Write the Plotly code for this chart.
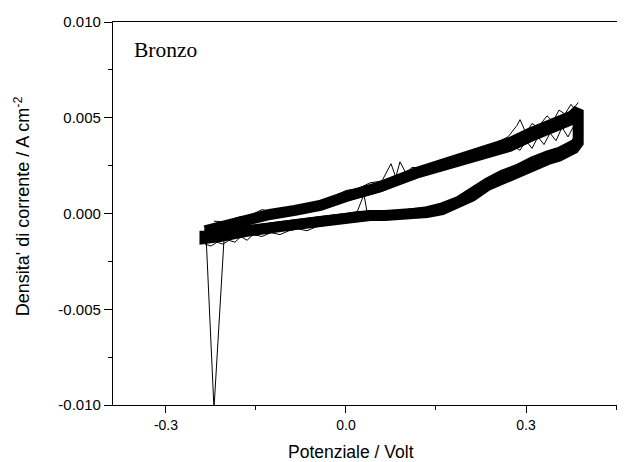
import plotly.graph_objects as go

# --- dati (voltammetria ciclica, bronzo) ---
# ramo anodico (andata): banda centrale e ciclo interno
pot_andata = [-0.235, -0.21, -0.168, -0.127, -0.085, -0.043, 0.0, 0.057, 0.118,
              0.173, 0.228, 0.273, 0.307, 0.348, 0.377, 0.387]
corr_andata = [-0.0009, -0.0007, -0.00026, -0.00005, 0.00016, 0.00042, 0.00089, 0.0014,
               0.00215, 0.00267, 0.0032, 0.0037, 0.0042, 0.0047, 0.0051, 0.0054]
corr_andata_int = [-0.001, -0.0008, -0.00035, -0.00012, 0.0001, 0.00035, 0.0008, 0.0013,
                   0.002, 0.0025, 0.003, 0.0034, 0.0039, 0.0044, 0.0048, 0.0051]

# ramo catodico (ritorno)
pot_ritorno = [0.387, 0.38, 0.37, 0.355, 0.335, 0.31, 0.285, 0.26, 0.235, 0.21, 0.185,
               0.16, 0.135, 0.11, 0.09, 0.065, 0.04, 0.02, 0.0, -0.043, -0.085, -0.127,
               -0.168, -0.21, -0.235]
corr_ritorno = [0.0037, 0.0034, 0.0032, 0.0030, 0.0028, 0.0025, 0.0021, 0.0018, 0.00145,
                0.0009, 0.0005, 0.0002, 0.00005, -0.00005, -0.0001, -0.0001, -0.0001,
                -0.00015, -0.00025, -0.00042, -0.00058, -0.00073, -0.00094, -0.0012, -0.0013]
corr_ritorno_int = [0.0040, 0.0037, 0.0035, 0.0033, 0.0031, 0.0028, 0.0024, 0.0021, 0.0017,
                    0.0012, 0.0007, 0.0004, 0.0002, 0.0001, 0.0, 0.0, 0.0, -0.00005,
                    -0.00015, -0.0003, -0.00046, -0.0006, -0.0008, -0.00105, -0.0012]

# rumore sul bordo superiore del ramo anodico
pot_rumore_sup = [-0.22, -0.2, -0.18, -0.16, -0.14, -0.12, -0.1, -0.08, -0.06, -0.04,
                  -0.02, 0.0, 0.02, 0.04, 0.06, 0.075, 0.083, 0.09, 0.1, 0.11, 0.13,
                  0.15, 0.17, 0.19, 0.21, 0.23, 0.25, 0.27, 0.285, 0.29, 0.3, 0.31,
                  0.32, 0.335, 0.345, 0.355, 0.365, 0.375, 0.38, 0.387]
corr_rumore_sup = [-0.0004, -0.00045, -0.0002, -0.0001, 0.0002, 0.0001, 0.0003, 0.0004,
                   0.0005, 0.0007, 0.0009, 0.0012, 0.0013, 0.0016, 0.0017, 0.0026,
                   0.0019, 0.0027, 0.0021, 0.0024, 0.0024, 0.0027, 0.0029, 0.003,
                   0.0033, 0.0035, 0.0037, 0.004, 0.0046, 0.0049, 0.0042, 0.0047,
                   0.0045, 0.0051, 0.0048, 0.0054, 0.0052, 0.0057, 0.0055, 0.0058]

# rumore sul bordo interno del ramo anodico
pot_rumore_int = [0.26, 0.28, 0.29, 0.30, 0.31, 0.32, 0.33, 0.34, 0.35, 0.36, 0.37, 0.38]
corr_rumore_int = [0.0034, 0.0035, 0.0033, 0.0038, 0.0034, 0.0040, 0.0036, 0.0042,
                   0.0038, 0.0045, 0.0040, 0.0046]

# rumore sul bordo inferiore del ramo catodico
pot_rumore_inf = [-0.235, -0.225, -0.215, -0.205, -0.195, -0.185, -0.175, -0.165, -0.155,
                  -0.14, -0.125, -0.11, -0.095, -0.08, -0.065, -0.05, -0.03, -0.01,
                  0.01, 0.03, 0.05, 0.08, 0.11, 0.14, 0.17, 0.2]
corr_rumore_inf = [-0.0016, -0.0017, -0.0015, -0.0016, -0.0014, -0.0015, -0.0012, -0.0014,
                   -0.0011, -0.0012, -0.0010, -0.0011, -0.0009, -0.0008, -0.0009, -0.0007,
                   -0.0006, -0.0005, -0.0004, -0.0003, -0.0003, -0.0003, -0.0002, -0.0001,
                   0.0002, 0.0005]

# picchi isolati
pot_picco_1 = [-0.233, -0.22, -0.203]
corr_picco_1 = [-0.0013, -0.0102, -0.0012]
pot_picco_2 = [0.015, 0.03, 0.036]
corr_picco_2 = [-0.0002, 0.001, -0.0001]

fig = go.Figure()

# banda principale (molti cicli sovrapposti)
fig.add_trace(go.Scatter(x=pot_andata + pot_ritorno + pot_andata[:1],
                         y=corr_andata + corr_ritorno + corr_andata[:1],
                         mode='lines', line=dict(color='black', width=11)))
fig.add_trace(go.Scatter(x=pot_andata + pot_ritorno,
                         y=corr_andata_int + corr_ritorno_int,
                         mode='lines', line=dict(color='black', width=7)))

# tracce sottili
for xs, ys in [(pot_rumore_sup, corr_rumore_sup), (pot_rumore_int, corr_rumore_int),
               (pot_rumore_inf, corr_rumore_inf), (pot_picco_1, corr_picco_1),
               (pot_picco_2, corr_picco_2)]:
    fig.add_trace(go.Scatter(x=xs, y=ys, mode='lines',
                             line=dict(color='black', width=1)))

# la pagina ha un margine di 8px: la figura e' un po' piu' piccola della finestra
fig.update_layout(
    width=617, height=454,
    margin=dict(l=105, r=0, t=14, b=57),
    paper_bgcolor='white', plot_bgcolor='white',
    font=dict(family='Arial, Liberation Sans, sans-serif', size=15, color='black'),
    showlegend=False,
)

fig.update_xaxes(
    range=[-0.3883, 0.465], showgrid=False, zeroline=False,
    showline=True, linecolor='black', linewidth=1.3, mirror=True,
    tickmode='array', tickvals=[-0.3, 0.0, 0.3], ticktext=['-0.3', '0.0', '0.3'],
    tickfont=dict(size=14),
    ticks='outside', ticklen=7, tickwidth=1.3, tickcolor='black',
    minor=dict(tickvals=[-0.15, 0.15, 0.45], ticks='outside', ticklen=4,
               tickwidth=1.3, tickcolor='black'),
)
fig.update_yaxes(
    range=[-0.010, 0.010], showgrid=False, zeroline=False,
    showline=True, linecolor='black', linewidth=1.3, mirror=False,
    tickmode='array', tickvals=[-0.010, -0.005, 0.0, 0.005, 0.010],
    ticktext=['-0.010', '-0.005', '0.000', '0.005', '0.010'],
    tickfont=dict(size=15),
    ticks='outside', ticklen=8, tickwidth=1.3, tickcolor='black',
    minor=dict(tickvals=[-0.0075, -0.0025, 0.0025, 0.0075], ticks='outside', ticklen=4,
               tickwidth=1.3, tickcolor='black'),
)

# titoli degli assi ed etichetta
fig.add_annotation(text='Potenziale / Volt', xref='paper', yref='paper',
                   x=0.465, y=-0.123, xanchor='center', yanchor='middle',
                   showarrow=False, font=dict(size=17.5))
fig.add_annotation(text="Densita' di corrente / A cm<sup>-2</sup>", xref='paper', yref='paper',
                   x=-0.177, y=0.52, xanchor='center', yanchor='middle', textangle=-90,
                   showarrow=False, font=dict(size=18))
fig.add_annotation(text='Bronzo', xref='paper', yref='paper',
                   x=0.1035, y=0.927, xanchor='center', yanchor='middle',
                   showarrow=False,
                   font=dict(family='Times New Roman, Liberation Serif, serif', size=21.5))

fig.write_html("out.html")
